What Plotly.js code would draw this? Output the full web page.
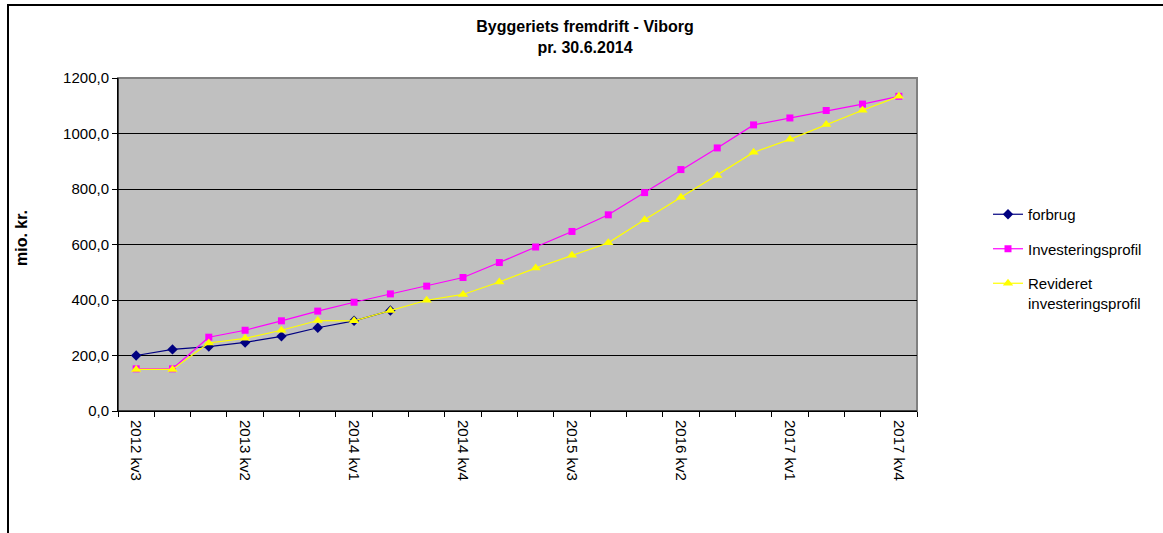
<!DOCTYPE html>
<html>
<head>
<meta charset="utf-8">
<script src="https://cdn.plot.ly/plotly-3.0.1.min.js"></script>
<style>html,body{margin:0;padding:0;background:#fff;}#chart{width:1163px;height:533px;}</style>
</head>
<body>
<div id="chart"></div>
<script>
const categories = ['2012 kv3','2012 kv4','2013 kv1','2013 kv2','2013 kv3','2013 kv4','2014 kv1','2014 kv2','2014 kv3','2014 kv4','2015 kv1','2015 kv2','2015 kv3','2015 kv4','2016 kv1','2016 kv2','2016 kv3','2016 kv4','2017 kv1','2017 kv2','2017 kv3','2017 kv4'];
const tickLabels = ['2012 kv3','2013 kv2','2014 kv1','2014 kv4','2015 kv3','2016 kv2','2017 kv1','2017 kv4'];
const forbrug = [200,222,232,247,269,300,325,362];
const investeringsprofil = [152,152,266,291,325,360,392,422,450,481,535,591,647,707,787,870,948,1031,1056,1083,1106,1134];
const revideret = [150,150,245,262,291,326,325,362,399,420,465,515,561,606,689,770,849,932,979,1032,1084,1134];
const yTicks = [0,200,400,600,800,1000,1200];

const FONT = 'Liberation Sans, Arial, sans-serif';

const traces = [
  {name:'forbrug', x: categories.slice(0, forbrug.length), y: forbrug, type:'scatter', mode:'lines+markers',
   line:{color:'#000080', width:1.2}, marker:{symbol:'diamond', size:8, color:'#000080'}, legendgroup:'a'},
  {name:'Investeringsprofil', x: categories, y: investeringsprofil, type:'scatter', mode:'lines+markers',
   line:{color:'#FF00FF', width:1.2}, marker:{symbol:'square', size:7, color:'#FF00FF'}, legendgroup:'b'},
  {name:'Revideret<br>investeringsprofil', x: categories, y: revideret, type:'scatter', mode:'lines+markers',
   line:{color:'#FFFF00', width:1.2}, marker:{symbol:'triangle-up', size:9, color:'#FFFF00'}, legendgroup:'c'}
];

const L = 118, R = 917, T = 78, B = 411, W = 1163, H = 533;
const pw = R - L, ph = B - T;

const layout = {
  width: W, height: H,
  margin: {l: L, r: W - R, t: T, b: H - B, pad: 0},
  paper_bgcolor: '#ffffff',
  plot_bgcolor: '#C0C0C0',
  separators: ',.',
  font: {family: FONT, size: 15, color: '#000'},
  title: {text: '<b>Byggeriets fremdrift - Viborg<br>pr. 30.6.2014</b>', font: {family: FONT, size: 16, color: '#000'},
          x: 585 / W, xref: 'container', xanchor: 'center', y: 1 - 32 / H, yref: 'container', yanchor: 'top'},
  xaxis: {
    type: 'category', range: [-0.5, categories.length - 0.5],
    tickmode: 'array', tickvals: categories,
    ticktext: categories.map(c => tickLabels.includes(c) ? c.replace(' ', '\u00a0') : ''),
    tickson: 'boundaries', ticks: 'outside', ticklen: 5, tickwidth: 1, tickcolor: '#000',
    tickangle: 90, ticklabelstandoff: 5, tickfont: {family: FONT, size: 15, color: '#000'},
    showgrid: false, showline: true, linecolor: '#000', linewidth: 1, zeroline: false, fixedrange: true
  },
  yaxis: {
    range: [0, 1200], tickmode: 'array', tickvals: yTicks, tickformat: '.1f',
    ticks: 'outside', ticklen: 5, tickcolor: '#000', tickwidth: 1,
    tickfont: {family: FONT, size: 15, color: '#000'},
    showgrid: true, gridcolor: '#000', gridwidth: 1,
    showline: true, linecolor: '#000', linewidth: 1, zeroline: false,
    automargin: false, fixedrange: true
  },
  annotations: [
    {text: '<b>mio. kr.</b>', xref: 'paper', yref: 'paper', x: (21 - L) / pw, y: (B - 238) / ph,
     xanchor: 'center', yanchor: 'middle', textangle: -90, showarrow: false,
     font: {family: FONT, size: 16, color: '#000'}}
  ],
  showlegend: true,
  legend: {x: (988 - L) / pw, xanchor: 'left', y: (B - 198) / ph, yanchor: 'top',
           font: {family: FONT, size: 15, color: '#000'}, bgcolor: 'rgba(0,0,0,0)',
           tracegroupgap: 12, valign: 'top', itemwidth: 30},
  shapes: [
    {type: 'rect', xref: 'paper', yref: 'paper', x0: 0, x1: 1, y0: 0, y1: 1,
     line: {color: '#808080', width: 2}, fillcolor: 'rgba(0,0,0,0)', layer: 'below'},
    {type: 'line', xref: 'paper', yref: 'paper', x0: 0, x1: 1, y0: 1, y1: 1, line: {color: '#808080', width: 2}},
    {type: 'line', xref: 'paper', yref: 'paper', x0: 0, x1: 0, y0: 0, y1: 1, line: {color: '#000', width: 1}},
    {type: 'line', xref: 'paper', yref: 'paper', x0: 0, x1: 1, y0: 0, y1: 0, line: {color: '#000', width: 1}},
    {type: 'rect', xref: 'paper', yref: 'paper', x0: (8 - L) / pw, x1: (W + 20 - L) / pw,
     y0: (B - (H + 20)) / ph, y1: (B - 5) / ph, line: {color: '#000', width: 2}, fillcolor: 'rgba(0,0,0,0)'}
  ]
};

Plotly.newPlot('chart', traces, layout, {displayModeBar: false, staticPlot: true});
</script>
</body>
</html>
